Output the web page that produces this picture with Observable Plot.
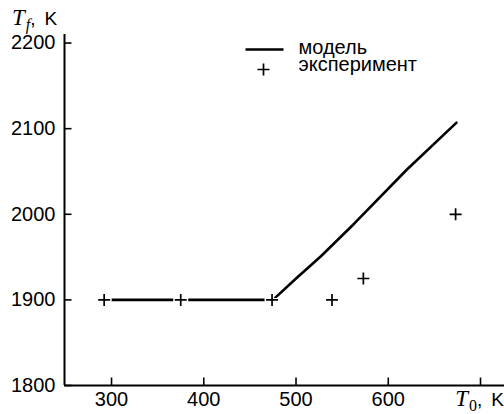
<!DOCTYPE html>
<html><head><meta charset="utf-8">
<script src="https://cdn.jsdelivr.net/npm/d3@7"></script>
<script src="https://cdn.jsdelivr.net/npm/@observablehq/plot@0.6"></script>
<style>body{margin:0;background:#fff} svg{display:block}</style>
</head><body><div id="chart"></div>
<script>
const modelT0 = [300, 475, 500, 527, 563, 620, 674];
const modelTf = [1900, 1900, 1925, 1951, 1989, 2052, 2107];
const expT0 = [292, 375, 474, 539, 573, 673];
const expTf = [1900, 1900, 1900, 1900, 1925, 2000];
const xTicks = [300, 400, 500, 600, 700];
const xTickLabels = ["300", "400", "500", "600", ""];
const yTicks = [1800, 1900, 2000, 2100, 2200];
const legendLabels = ["модель", "эксперимент"];
const xDomain = [249, 726];
const yDomain = [1800, 2210];

const model = modelT0.map((x, i) => ({x, y: modelTf[i]}));
const exp = expT0.map((x, i) => ({x, y: expTf[i]}));

const rad = s => Math.sqrt(s / Math.PI);
const plusSym = {draw(ctx, size) { const r = rad(size); ctx.moveTo(-r, 0); ctx.lineTo(r, 0); ctx.moveTo(0, -r); ctx.lineTo(0, r); }};
const hlineSym = {draw(ctx, size) { const r = rad(size); ctx.moveTo(-r, 0); ctx.lineTo(r, 0); }};
const xTickSym = {draw(ctx, size) { const r = rad(size); ctx.moveTo(0, 0); ctx.lineTo(0, -r); }};
const yTickSym = {draw(ctx, size) { const r = rad(size); ctx.moveTo(0, 0); ctx.lineTo(r, 0); }};

const chart = Plot.plot({
  width: 504, height: 414,
  marginLeft: 64, marginRight: 0, marginTop: 34, marginBottom: 29,
  style: {fontFamily: "'Liberation Sans', Arial, sans-serif", fontSize: "20px", color: "black", background: "white"},
  x: {domain: xDomain, ticks: xTicks},
  y: {domain: yDomain, ticks: yTicks},
  marks: [
    Plot.axisX(xTicks, {tickSize: 0, tickPadding: 6, label: null, tickFormat: d => xTickLabels[xTicks.indexOf(d)], fontSize: 20}),
    Plot.axisY(yTicks, {tickSize: 0, tickPadding: 9, label: null, tickFormat: d => String(d), fontSize: 20}),
    Plot.ruleX([xDomain[0]], {stroke: "black", strokeWidth: 2}),
    Plot.ruleY([yDomain[0]], {stroke: "black", strokeWidth: 2}),
    Plot.dot(xTicks, {x: d => d, y: () => yDomain[0], symbol: xTickSym, r: 8, stroke: "black", strokeWidth: 1.6}),
    Plot.dot(yTicks, {x: () => xDomain[0], y: d => d, symbol: yTickSym, r: 7, stroke: "black", strokeWidth: 1.6}),
    Plot.line(model, {x: "x", y: "y", stroke: "black", strokeWidth: 2.6, strokeLinejoin: "round"}),
    Plot.dot(exp, {x: "x", y: "y", symbol: plusSym, r: 7.5, stroke: "white", strokeWidth: 4}),
    Plot.dot(exp, {x: "x", y: "y", symbol: plusSym, r: 6, stroke: "black", strokeWidth: 1.7}),
    // legend
    Plot.dot([0], {frameAnchor: "top-left", dx: 200, dy: 15, symbol: hlineSym, r: 19, stroke: "black", strokeWidth: 2.6}),
    Plot.dot([0], {frameAnchor: "top-left", dx: 199, dy: 35, symbol: plusSym, r: 6, stroke: "black", strokeWidth: 1.7}),
    Plot.text([legendLabels[0]], {text: d => d, frameAnchor: "top-left", dx: 234, dy: 19, textAnchor: "start", lineAnchor: "bottom", fontSize: 20, fill: "black"}),
    Plot.text([legendLabels[1]], {text: d => d, frameAnchor: "top-left", dx: 234, dy: 36, textAnchor: "start", lineAnchor: "bottom", fontSize: 20, fill: "black"})
  ]
});
document.getElementById("chart").appendChild(chart);

const svg = d3.select(chart);
function axisLabel(x, y, anchor, sub) {
  const t = svg.append("text").attr("x", x).attr("y", y).attr("text-anchor", anchor).attr("fill", "black");
  const serif = "'Liberation Serif', 'Times New Roman', serif";
  const sans = "'Liberation Sans', Arial, sans-serif";
  t.append("tspan").attr("font-family", serif).attr("font-style", "italic").attr("font-size", 23).text("T");
  t.append("tspan").attr("font-family", serif).attr("font-style", sub === "f" ? "italic" : "normal").attr("font-size", 16).attr("dy", 5).attr("dx", 1).text(sub);
  t.append("tspan").attr("font-family", sans).attr("font-size", 19).attr("dy", -5).text(",");
  t.append("tspan").attr("font-family", sans).attr("font-size", 19).attr("dx", 9).text("K");
}
axisLabel(12, 25, "start", "f");
axisLabel(504, 406, "end", "0");
</script>
</body></html>
